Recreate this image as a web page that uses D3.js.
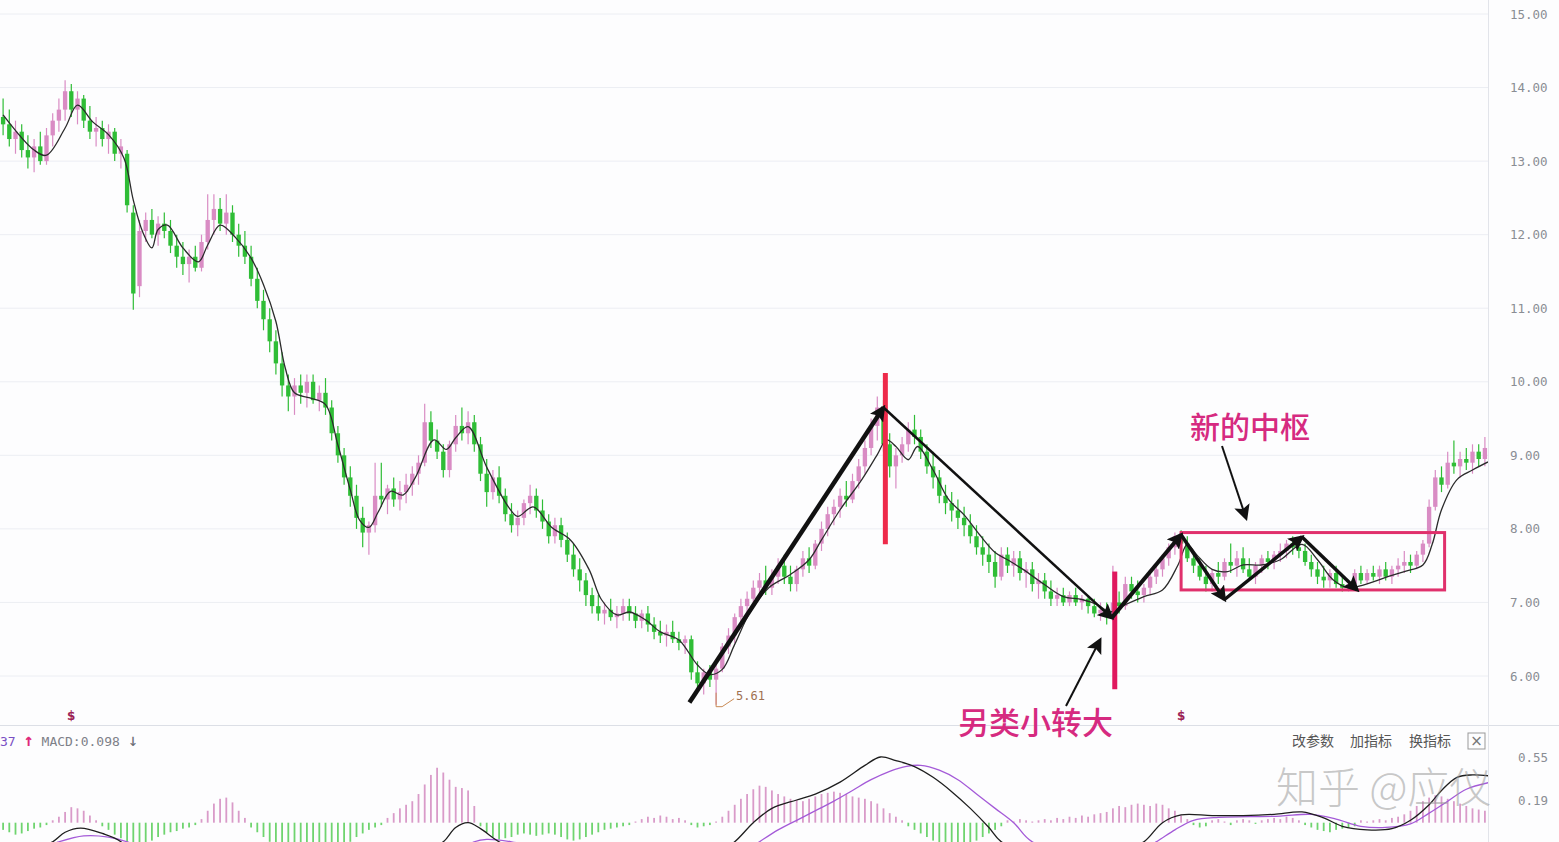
<!DOCTYPE html>
<html>
<head>
<meta charset="utf-8">
<script src="https://cdn.jsdelivr.net/npm/d3@7/dist/d3.min.js"></script>
<style>
  body { margin: 0; background: #fff; }
  svg { display: block; }
</style>
</head>
<body>
<div id="chart"></div>
<script>
// ---------------- data ----------------
const priceTicks = [15, 14, 13, 12, 11, 10, 9, 8, 7, 6];
const macdTicks = [0.55, 0.19];

// [open, high, low, close] one per trading day
const ohlc = [
  [13.60,13.85,13.35,13.50],[13.50,13.70,13.20,13.30],[13.30,13.55,13.10,13.40],[13.40,13.50,13.05,13.15],[13.15,13.35,12.90,13.05],
  [13.05,13.30,12.85,13.20],[13.20,13.40,12.95,13.00],[13.00,13.45,12.95,13.35],[13.35,13.65,13.20,13.55],[13.55,13.85,13.40,13.70],
  [13.70,14.10,13.55,13.95],[13.95,14.05,13.60,13.70],[13.70,13.95,13.50,13.85],[13.85,13.90,13.45,13.55],[13.55,13.75,13.30,13.40],
  [13.40,13.60,13.20,13.45],[13.45,13.55,13.20,13.30],[13.30,13.50,13.10,13.40],[13.40,13.45,13.00,13.10],[13.10,13.30,12.90,13.20],
  [13.10,13.15,12.30,12.40],[12.30,12.40,10.98,11.20],[11.30,12.20,11.15,12.05],[12.05,12.30,11.90,12.20],[12.20,12.35,11.95,12.00],
  [12.00,12.25,11.85,12.15],[12.15,12.30,11.95,12.05],[12.05,12.20,11.75,11.85],[11.85,12.00,11.55,11.70],[11.70,11.90,11.45,11.60],
  [11.60,11.80,11.35,11.70],[11.70,11.85,11.50,11.55],[11.55,12.00,11.50,11.90],[11.90,12.55,11.80,12.20],[12.20,12.55,12.00,12.35],
  [12.35,12.50,12.05,12.15],[12.15,12.55,12.00,12.30],[12.30,12.40,11.90,12.00],[12.00,12.15,11.70,11.85],[11.85,12.05,11.60,11.70],
  [11.70,11.85,11.30,11.40],[11.40,11.55,11.00,11.10],[11.10,11.25,10.70,10.85],[10.85,11.00,10.40,10.55],[10.55,10.70,10.10,10.25],
  [10.25,10.40,9.80,9.95],[9.95,10.10,9.60,9.80],[9.80,10.05,9.55,9.95],[9.95,10.10,9.70,9.85],[9.85,10.10,9.65,10.00],
  [10.00,10.10,9.70,9.75],[9.75,9.95,9.60,9.85],[9.85,10.05,9.55,9.65],[9.65,9.75,9.20,9.30],[9.30,9.40,8.90,9.00],
  [9.00,9.10,8.60,8.70],[8.70,8.85,8.30,8.45],[8.45,8.60,8.00,8.15],[8.15,8.30,7.75,7.95],[7.95,8.10,7.65,8.05],
  [8.05,8.90,7.95,8.45],[8.45,8.90,8.30,8.40],[8.40,8.60,8.20,8.55],[8.55,8.70,8.30,8.40],[8.40,8.65,8.25,8.50],
  [8.50,8.75,8.35,8.60],[8.60,8.85,8.45,8.75],[8.75,9.00,8.60,8.90],[8.90,9.70,8.85,9.45],[9.45,9.60,9.10,9.20],
  [9.20,9.35,8.95,9.05],[9.05,9.15,8.70,8.80],[8.80,9.20,8.70,9.15],[9.15,9.55,9.05,9.40],[9.40,9.65,9.20,9.30],
  [9.30,9.60,9.15,9.45],[9.45,9.55,9.05,9.15],[9.15,9.25,8.65,8.75],[8.75,8.95,8.30,8.50],[8.50,8.80,8.40,8.70],
  [8.70,8.85,8.35,8.45],[8.45,8.55,8.10,8.20],[8.20,8.35,7.95,8.05],[8.05,8.25,7.90,8.15],[8.15,8.40,8.05,8.35],
  [8.35,8.60,8.20,8.45],[8.45,8.55,8.15,8.25],[8.25,8.40,8.00,8.10],[8.10,8.20,7.80,7.90],[7.90,8.15,7.80,8.05],
  [8.05,8.15,7.75,7.85],[7.85,7.95,7.55,7.65],[7.65,7.80,7.35,7.45],[7.45,7.60,7.15,7.30],[7.30,7.40,6.95,7.10],
  [7.10,7.20,6.85,6.95],[6.95,7.10,6.75,6.85],[6.85,7.00,6.70,6.90],[6.90,7.05,6.75,6.80],[6.80,6.95,6.65,6.85],
  [6.85,7.05,6.75,6.95],[6.95,7.05,6.75,6.85],[6.85,6.95,6.65,6.75],[6.75,6.90,6.65,6.85],[6.85,6.95,6.60,6.70],
  [6.70,6.80,6.50,6.60],[6.60,6.75,6.45,6.55],[6.55,6.70,6.40,6.60],[6.60,6.75,6.45,6.50],[6.50,6.60,6.35,6.45],
  [6.45,6.55,6.30,6.50],[6.50,6.55,5.95,6.05],[6.05,6.20,5.80,5.90],[5.90,6.10,5.75,6.05],[6.05,6.15,5.85,5.95],
  [5.95,6.20,5.61,6.10],[6.10,6.45,6.05,6.40],[6.40,6.65,6.30,6.55],[6.55,6.85,6.45,6.80],[6.80,7.05,6.65,6.95],
  [6.95,7.15,6.80,7.05],[7.05,7.30,6.95,7.20],[7.20,7.40,7.05,7.30],[7.30,7.50,7.10,7.20],[7.20,7.45,7.10,7.35],
  [7.35,7.60,7.25,7.50],[7.50,7.65,7.25,7.35],[7.35,7.50,7.15,7.25],[7.25,7.50,7.15,7.45],[7.45,7.70,7.35,7.60],
  [7.60,7.75,7.40,7.50],[7.50,7.85,7.45,7.80],[7.80,8.10,7.70,8.00],[8.00,8.30,7.90,8.20],[8.20,8.40,8.05,8.30],
  [8.30,8.55,8.15,8.45],[8.45,8.65,8.30,8.40],[8.40,8.75,8.35,8.65],[8.65,8.95,8.55,8.85],[8.85,9.20,8.75,9.10],
  [9.10,9.50,9.00,9.40],[9.40,9.80,9.20,9.65],[9.65,9.75,9.05,9.15],[9.15,9.30,8.70,8.85],[8.85,9.10,8.55,9.00],
  [9.00,9.25,8.90,9.15],[9.15,9.45,9.05,9.35],[9.35,9.55,9.15,9.25],[9.25,9.35,8.95,9.05],[9.05,9.15,8.75,8.85],
  [8.85,9.05,8.55,8.70],[8.70,8.80,8.35,8.45],[8.45,8.60,8.20,8.35],[8.35,8.50,8.10,8.25],[8.25,8.40,8.00,8.15],
  [8.15,8.30,7.90,8.05],[8.05,8.20,7.80,7.90],[7.90,8.05,7.65,7.75],[7.75,7.90,7.50,7.65],[7.65,7.80,7.40,7.55],
  [7.55,7.70,7.20,7.35],[7.35,7.75,7.30,7.65],[7.65,7.75,7.40,7.50],[7.50,7.70,7.35,7.60],[7.60,7.70,7.30,7.40],
  [7.40,7.55,7.20,7.45],[7.45,7.55,7.15,7.25],[7.25,7.40,7.05,7.30],[7.30,7.40,7.05,7.15],[7.15,7.30,6.95,7.05],
  [7.05,7.20,6.95,7.10],[7.10,7.20,6.95,7.00],[7.00,7.15,6.95,7.10],[7.10,7.20,6.95,7.00],[7.00,7.10,6.90,7.05],
  [7.05,7.10,6.85,6.95],[6.95,7.05,6.80,6.85],[6.85,7.00,6.75,6.90],[6.90,7.00,6.70,6.80],[6.80,7.50,6.75,7.00],
  [7.00,7.15,6.85,6.95],[6.95,7.35,6.90,7.25],[7.25,7.35,7.05,7.15],[7.15,7.30,7.00,7.10],[7.10,7.25,7.00,7.20],
  [7.20,7.40,7.10,7.35],[7.35,7.50,7.25,7.45],[7.45,7.65,7.35,7.60],[7.60,7.80,7.50,7.75],[7.75,7.95,7.65,7.90],
  [7.90,7.98,7.70,7.80],[7.80,7.90,7.55,7.60],[7.60,7.70,7.40,7.50],[7.50,7.60,7.30,7.35],[7.35,7.50,7.15,7.25],
  [7.25,7.45,7.15,7.40],[7.40,7.55,7.25,7.35],[7.35,7.60,7.30,7.55],[7.55,7.80,7.40,7.50],[7.50,7.70,7.35,7.60],
  [7.60,7.75,7.40,7.45],[7.45,7.60,7.30,7.35],[7.35,7.55,7.25,7.50],[7.50,7.65,7.40,7.60],[7.60,7.70,7.45,7.55],
  [7.55,7.70,7.45,7.65],[7.65,7.80,7.55,7.70],[7.70,7.85,7.60,7.80],[7.80,7.90,7.65,7.75],[7.75,7.88,7.60,7.70],
  [7.70,7.80,7.50,7.55],[7.55,7.65,7.35,7.45],[7.45,7.55,7.25,7.35],[7.35,7.50,7.20,7.30],[7.30,7.45,7.20,7.40],
  [7.40,7.50,7.20,7.25],[7.25,7.35,7.15,7.20],[7.20,7.30,7.15,7.25],[7.25,7.45,7.20,7.40],[7.40,7.50,7.25,7.30],
  [7.30,7.45,7.25,7.40],[7.40,7.50,7.30,7.35],[7.35,7.50,7.25,7.45],[7.45,7.55,7.30,7.35],[7.35,7.50,7.25,7.45],
  [7.45,7.60,7.35,7.50],[7.50,7.70,7.40,7.55],[7.55,7.65,7.40,7.50],[7.50,7.70,7.45,7.65],[7.65,7.85,7.55,7.80],
  [7.80,8.40,7.75,8.30],[8.30,8.80,8.25,8.70],[8.70,8.85,8.50,8.60],[8.60,9.05,8.55,8.90],[8.90,9.20,8.75,8.85],
  [8.85,9.05,8.70,8.95],[8.95,9.10,8.80,8.90],[8.90,9.15,8.75,9.05],[9.05,9.15,8.85,8.95],[8.95,9.25,8.85,9.10]
];

// moving average, [day, price]
const maLine = [
  [0,13.63],[5,13.15],[7,13.08],[10,13.45],[12,13.76],[14.5,13.53],[17,13.36],[19.5,13.04],[21,12.47],[22.5,12.04],
  [24,11.82],[25,12.07],[26.5,12.13],[29,11.82],[31.5,11.63],[33,11.86],[35,12.13],[37.5,11.96],[40,11.68],[42,11.32],
  [44,10.82],[45.5,10.19],[47,9.85],[49.5,9.78],[52,9.69],[54,9.14],[56,8.53],[57.5,8.12],[59,8.02],[60.5,8.23],
  [62.5,8.51],[64.5,8.46],[66.5,8.70],[69.5,9.21],[71.5,9.08],[73,9.24],[75,9.39],[78,8.84],[81.5,8.30],[83,8.17],
  [85.5,8.30],[88.5,8.02],[91.5,7.85],[94.5,7.45],[96.5,7.04],[99,6.83],[101,6.87],[103.5,6.77],[106,6.60],[109,6.49],
  [112,6.15],[114,6.02],[116,6.09],[118,6.43],[120.5,6.87],[123.5,7.20],[127,7.38],[130,7.58],[132,7.85],[135,8.26],
  [138.5,8.67],[141,9.01],[142.5,9.21],[144,9.12],[146,8.94],[147.5,9.12],[150,8.80],[152.5,8.40],[155,8.19],[157.5,7.92],
  [160,7.68],[162,7.58],[164.5,7.45],[168,7.24],[171,7.08],[174,7.04],[176.5,6.97],[178.5,6.87],[181,6.97],[184,7.08],
  [187,7.17],[189.5,7.51],[191,7.79],[192.5,7.65],[195,7.45],[197.5,7.42],[200,7.51],[203,7.51],[206,7.58],[209.5,7.79],
  [212,7.58],[214.5,7.31],[217,7.20],[219.5,7.24],[223,7.34],[226,7.42],[229,7.51],[230.5,7.79],[232,8.26],[234.5,8.67],
  [237,8.80],[239.5,8.91]
];

// MACD histogram, one per day
const macdHist = [
  -0.06,-0.08,-0.1,-0.09,-0.07,-0.05,-0.04,-0.02,
  0.02,0.05,0.09,0.13,0.12,0.10,0.06,0.02,
  -0.03,-0.06,-0.1,-0.13,-0.16,-0.2,-0.2,-0.18,-0.15,-0.12,-0.1,-0.08,-0.07,-0.05,-0.04,-0.02,
  0.03,0.10,0.16,0.20,0.21,0.17,0.10,0.04,
  -0.04,-0.08,-0.12,-0.16,-0.2,-0.24,-0.26,-0.25,-0.22,-0.2,-0.2,-0.22,-0.25,-0.26,-0.24,-0.2,-0.16,-0.12,-0.09,-0.06,-0.04,-0.02,
  0.04,0.08,0.12,0.15,0.18,0.24,0.32,0.40,0.46,0.42,0.36,0.30,0.29,0.27,0.14,
  -0.03,-0.08,-0.12,-0.14,-0.13,-0.12,-0.1,
  -0.09,-0.1,-0.11,-0.1,-0.09,-0.1,-0.12,-0.14,-0.15,-0.14,-0.12,-0.1,-0.08,-0.06,-0.05,-0.04,-0.03,-0.02,0.01,
  0.03,0.05,0.04,0.06,0.05,0.03,0.04,0.02,-0.02,-0.04,
  -0.03,-0.02,0.01,
  0.05,0.10,0.15,0.20,0.24,0.28,0.31,0.30,0.27,0.24,0.22,0.20,0.19,
  0.18,0.20,0.22,0.24,0.25,0.26,0.25,0.24,0.22,0.21,0.20,0.18,0.16,
  0.12,0.08,0.05,0.02,
  -0.03,-0.06,-0.09,-0.12,-0.15,-0.17,-0.19,-0.2,-0.2,-0.19,-0.17,-0.15,-0.12,-0.09,-0.06,-0.03,
  0.02,0.01,0.03,0.02,0.01,0.02,0.03,0.02,0.04,0.03,0.05,0.04,0.06,0.05,0.07,0.08,0.09,
  0.12,0.14,0.13,0.15,0.16,0.15,0.14,0.16,0.15,0.12,0.1,
  0.06,0.03,-0.02,-0.04,-0.03,0.02,0.03,0.01,-0.02,0.02,0.03,0.02,-0.01,0.02,0.03,0.04,0.03,0.05,0.04,0.02,-0.02,-0.04,-0.06,
  -0.07,-0.08,-0.06,-0.05,-0.04,-0.03,0.02,0.01,0.02,0.03,0.02,0.04,0.05,
  0.07,0.10,0.14,0.18,0.21,0.23,0.22,0.2,0.18,0.16,0.14,0.12,0.11,0.1
];

// DIF (black) and DEA (purple), [day, value]
const difLine = [
  [0,-0.30],[5,-0.22],[8,-0.16],[10,-0.08],[12.5,-0.045],[16,-0.09],[19,-0.16],[21,-0.30],[26,-0.40],[33,-0.28],
  [38,-0.30],[45,-0.55],[55,-0.75],[62,-0.55],[68,-0.25],[71,-0.16],[73,-0.04],[75,0.00],[77,-0.05],[80,-0.16],
  [85,-0.28],[95,-0.45],[105,-0.45],[113,-0.35],[118,-0.16],[121,0.00],[124,0.12],[128,0.19],[131,0.24],[135,0.34],
  [139,0.48],[141.5,0.55],[144,0.52],[147,0.47],[150,0.38],[153,0.26],[156,0.12],[159,-0.04],[161,-0.16],[167,-0.30],
  [175,-0.30],[181,-0.22],[184,-0.16],[187,0.00],[190,0.065],[195,0.06],[200,0.06],[205,0.07],[209.5,0.09],[213,0.04],
  [216,-0.03],[220,-0.06],[224,-0.05],[227,0.02],[230,0.15],[232,0.27],[234.5,0.38],[237,0.40],[240,0.39]
];
const deaLine = [
  [0,-0.28],[6,-0.22],[9,-0.16],[13,-0.11],[17,-0.12],[20,-0.16],[24,-0.25],[30,-0.33],[40,-0.35],[50,-0.55],
  [60,-0.60],[70,-0.35],[76,-0.16],[78,-0.14],[82,-0.16],[90,-0.25],[100,-0.38],[110,-0.40],[118,-0.30],[122,-0.16],
  [125,-0.06],[128,0.02],[131,0.10],[134,0.18],[137,0.27],[140,0.36],[143,0.43],[145.5,0.47],[148,0.48],[151,0.44],
  [154,0.36],[157,0.24],[160,0.12],[163,0.00],[166,-0.16],[175,-0.26],[183,-0.24],[186,-0.16],[189,-0.06],[192,0.02],
  [196,0.045],[201,0.05],[206,0.055],[211,0.07],[215,0.03],[219,-0.03],[223,-0.04],[227,-0.01],[230,0.08],[233,0.18],
  [236,0.28],[240,0.34]
];

// hand-drawn annotations (day, price)
const trendPivots = [[110.7,5.64],[142,9.65],[178.8,6.79],[190,7.92],[197,7.04],[209.5,7.89],[218.4,7.17]];
const trendWidths = [4.5, 2.5, 4, 3.5, 3.5, 3.5];
const redMarks = [[142.3, 10.12, 7.79, "#ee2a4a"], [179.3, 7.42, 5.82, "#e0185e"]];
const pivotBox = [190, 232.5, 7.95, 7.17];
const lowMark = [115, 5.61, "5.61"];
const signalDays = [11, 190];

// ---------------- layout ----------------
const W = 1559, H = 842;
const plotRight = 1488;
const mainTop = 0, mainBottom = 725;
const N = ohlc.length;

const svg = d3.select("#chart").append("svg")
  .attr("width", W).attr("height", H)
  .style("font-family", "'DejaVu Sans', sans-serif");

svg.append("rect").attr("width", W).attr("height", H).attr("fill", "#fdfdfe");

const defs = svg.append("defs");
defs.append("clipPath").attr("id", "clipMain")
  .append("rect").attr("x", 0).attr("y", mainTop).attr("width", plotRight).attr("height", mainBottom - mainTop);
defs.append("clipPath").attr("id", "clipMacd")
  .append("rect").attr("x", 0).attr("y", mainBottom + 1).attr("width", plotRight).attr("height", H - mainBottom);
defs.append("marker").attr("id", "arrow")
  .attr("viewBox", "0 0 10 10").attr("refX", 8).attr("refY", 5)
  .attr("markerUnits", "userSpaceOnUse").attr("markerWidth", 16).attr("markerHeight", 16)
  .attr("orient", "auto")
  .append("path").attr("d", "M0,0 L10,5 L0,10 L2,5 z").attr("fill", "#111");

const x = d3.scaleLinear().domain([0, N]).range([0, plotRight]);
const y = d3.scaleLinear().domain([15, 6]).range([14, 676]);
const ym = d3.scaleLinear().domain([0.55, 0.19]).range([757, 800]);

const step = x(1) - x(0);
const cx = i => x(i + 0.5);

// ---------------- grid / frame ----------------
svg.append("g").selectAll("line").data(priceTicks).join("line")
  .attr("x1", 0).attr("x2", plotRight)
  .attr("y1", d => y(d)).attr("y2", d => y(d))
  .attr("stroke", "#eceef3").attr("stroke-width", 1);

svg.append("line").attr("x1", 0).attr("x2", W).attr("y1", mainBottom + 0.5).attr("y2", mainBottom + 0.5)
  .attr("stroke", "#dcdfe6");
svg.append("line").attr("x1", plotRight + 0.5).attr("x2", plotRight + 0.5).attr("y1", 0).attr("y2", H)
  .attr("stroke", "#e2e4ea");

// right axis
const axisR = d3.axisRight(y).tickValues(priceTicks).tickFormat(d3.format(".2f")).tickSize(0).tickPadding(22);
svg.append("g").attr("transform", `translate(${plotRight},0)`).call(axisR)
  .call(g => g.select(".domain").remove())
  .call(g => g.selectAll("text").attr("fill", "#8a8d94").style("font-size", "12.5px")
    .style("font-family", "'DejaVu Sans Mono', monospace"));

const axisM = d3.axisRight(ym).tickValues(macdTicks).tickFormat(d3.format(".2f")).tickSize(0).tickPadding(30);
svg.append("g").attr("transform", `translate(${plotRight},0)`).call(axisM)
  .call(g => g.select(".domain").remove())
  .call(g => g.selectAll("text").attr("fill", "#8a8d94").style("font-size", "12.5px")
    .style("font-family", "'DejaVu Sans Mono', monospace"));

// ---------------- candles ----------------
const upColor = "#d98cc4", downColor = "#2fbd36";
const main = svg.append("g").attr("clip-path", "url(#clipMain)");
const bodyW = step * 0.7;

const candle = main.append("g").selectAll("g").data(ohlc).join("g");
candle.append("line")
  .attr("x1", (d, i) => cx(i)).attr("x2", (d, i) => cx(i))
  .attr("y1", d => y(d[1])).attr("y2", d => y(d[2]))
  .attr("stroke", d => d[3] >= d[0] ? upColor : downColor).attr("stroke-width", 1.2);
candle.append("rect")
  .attr("x", (d, i) => cx(i) - bodyW / 2).attr("width", bodyW)
  .attr("y", d => y(Math.max(d[0], d[3])))
  .attr("height", d => Math.max(1, Math.abs(y(d[0]) - y(d[3]))))
  .attr("fill", d => d[3] >= d[0] ? upColor : downColor);

// moving average
main.append("path").datum(maLine)
  .attr("d", d3.line().x(d => x(d[0] + 0.5)).y(d => y(d[1])).curve(d3.curveCatmullRom))
  .attr("fill", "none").attr("stroke", "#2b2b2b").attr("stroke-width", 1.3);

// lowest price label
const lx = cx(lowMark[0]), ly = y(lowMark[1]);
main.append("path")
  .attr("d", `M${lx},${ly - 12} L${lx},${ly + 2} L${lx + 6},${ly + 2} L${lx + 18},${ly - 6}`)
  .attr("fill", "none").attr("stroke", "#c98a55").attr("stroke-width", 1);
main.append("text").attr("x", lx + 20).attr("y", ly - 5).text(lowMark[2])
  .attr("fill", "#a07050").style("font-size", "12px").style("font-family", "'DejaVu Sans Mono', monospace");

// signal markers
main.append("g").selectAll("text").data(signalDays).join("text")
  .attr("x", d => cx(d)).attr("y", 720).attr("text-anchor", "middle")
  .text("$").attr("fill", "#9c2256").style("font-size", "12px").style("font-weight", "bold");

// ---------------- annotations ----------------
redMarks.forEach(m => {
  svg.append("line").attr("x1", cx(m[0])).attr("x2", cx(m[0]))
    .attr("y1", y(m[1])).attr("y2", y(m[2]))
    .attr("stroke", m[3]).attr("stroke-width", 5);
});

svg.append("rect")
  .attr("x", cx(pivotBox[0])).attr("y", y(pivotBox[2]))
  .attr("width", cx(pivotBox[1]) - cx(pivotBox[0]))
  .attr("height", y(pivotBox[3]) - y(pivotBox[2]))
  .attr("fill", "none").attr("stroke", "#e0306c").attr("stroke-width", 3);

d3.pairs(trendPivots).forEach((p, k) => {
  svg.append("line")
    .attr("x1", cx(p[0][0])).attr("y1", y(p[0][1]))
    .attr("x2", cx(p[1][0])).attr("y2", y(p[1][1]))
    .attr("stroke", "#111").attr("stroke-width", trendWidths[k])
    .attr("marker-end", "url(#arrow)");
});

// pointer arrows from the captions
svg.append("line").attr("x1", 1066).attr("y1", 706).attr("x2", 1100).attr("y2", 640)
  .attr("stroke", "#111").attr("stroke-width", 2).attr("marker-end", "url(#arrow)");
svg.append("line").attr("x1", 1222).attr("y1", 446).attr("x2", 1246).attr("y2", 518)
  .attr("stroke", "#111").attr("stroke-width", 2).attr("marker-end", "url(#arrow)");

const capFont = "'Noto Sans CJK SC', sans-serif";
svg.append("text").attr("x", 1190).attr("y", 438).text("新的中枢")
  .attr("fill", "#d62a80").style("font-size", "30px").style("font-family", capFont).style("font-weight", 500);
svg.append("text").attr("x", 958).attr("y", 734).text("另类小转大")
  .attr("fill", "#d62a80").style("font-size", "31px").style("font-family", capFont).style("font-weight", 500);

// ---------------- MACD panel ----------------
const macd = svg.append("g").attr("clip-path", "url(#clipMacd)");
macd.append("g").selectAll("rect").data(macdHist).join("rect")
  .attr("x", (d, i) => cx(i) - 0.9).attr("width", 1.8)
  .attr("y", d => d >= 0 ? ym(d) : ym(0))
  .attr("height", d => Math.abs(ym(d) - ym(0)))
  .attr("fill", d => d >= 0 ? "#d99bc9" : "#6fd46f");

const macdLine = d3.line().x(d => x(d[0] + 0.5)).y(d => ym(d[1])).curve(d3.curveCatmullRom);
macd.append("path").datum(deaLine).attr("d", macdLine)
  .attr("fill", "none").attr("stroke", "#a45ad8").attr("stroke-width", 1.3);
macd.append("path").datum(difLine).attr("d", macdLine)
  .attr("fill", "none").attr("stroke", "#1e1e1e").attr("stroke-width", 1.3);

// MACD header
const hdr = svg.append("text").attr("x", 0).attr("y", 746).style("font-size", "13px")
  .style("font-family", "'DejaVu Sans Mono', monospace");
hdr.append("tspan").text("37 ").attr("fill", "#7a4fc4");
hdr.append("tspan").text("↑").attr("fill", "#e0287a").style("font-size", "17px").style("font-weight", "bold");
hdr.append("tspan").text(" MACD:0.098 ").attr("fill", "#7d8088");
hdr.append("tspan").text("↓").attr("fill", "#6a6d74").style("font-size", "17px");

const buttons = [["改参数", 1292], ["加指标", 1350], ["换指标", 1409]];
svg.append("g").selectAll("text").data(buttons).join("text")
  .attr("x", d => d[1]).attr("y", 746).text(d => d[0])
  .attr("fill", "#555").style("font-size", "14px").style("font-family", capFont);
svg.append("rect").attr("x", 1468).attr("y", 733).attr("width", 17).attr("height", 16)
  .attr("fill", "none").attr("stroke", "#999");
svg.append("text").attr("x", 1476.5).attr("y", 746).attr("text-anchor", "middle").text("×")
  .attr("fill", "#777").style("font-size", "15px");

// watermark
svg.append("text").attr("x", 1276).attr("y", 803).text("知乎 @应仪")
  .attr("fill", "#9a9a9a").attr("fill-opacity", 0.55)
  .style("font-size", "42px").style("font-family", capFont).style("font-weight", 300);
</script>
</body>
</html>
